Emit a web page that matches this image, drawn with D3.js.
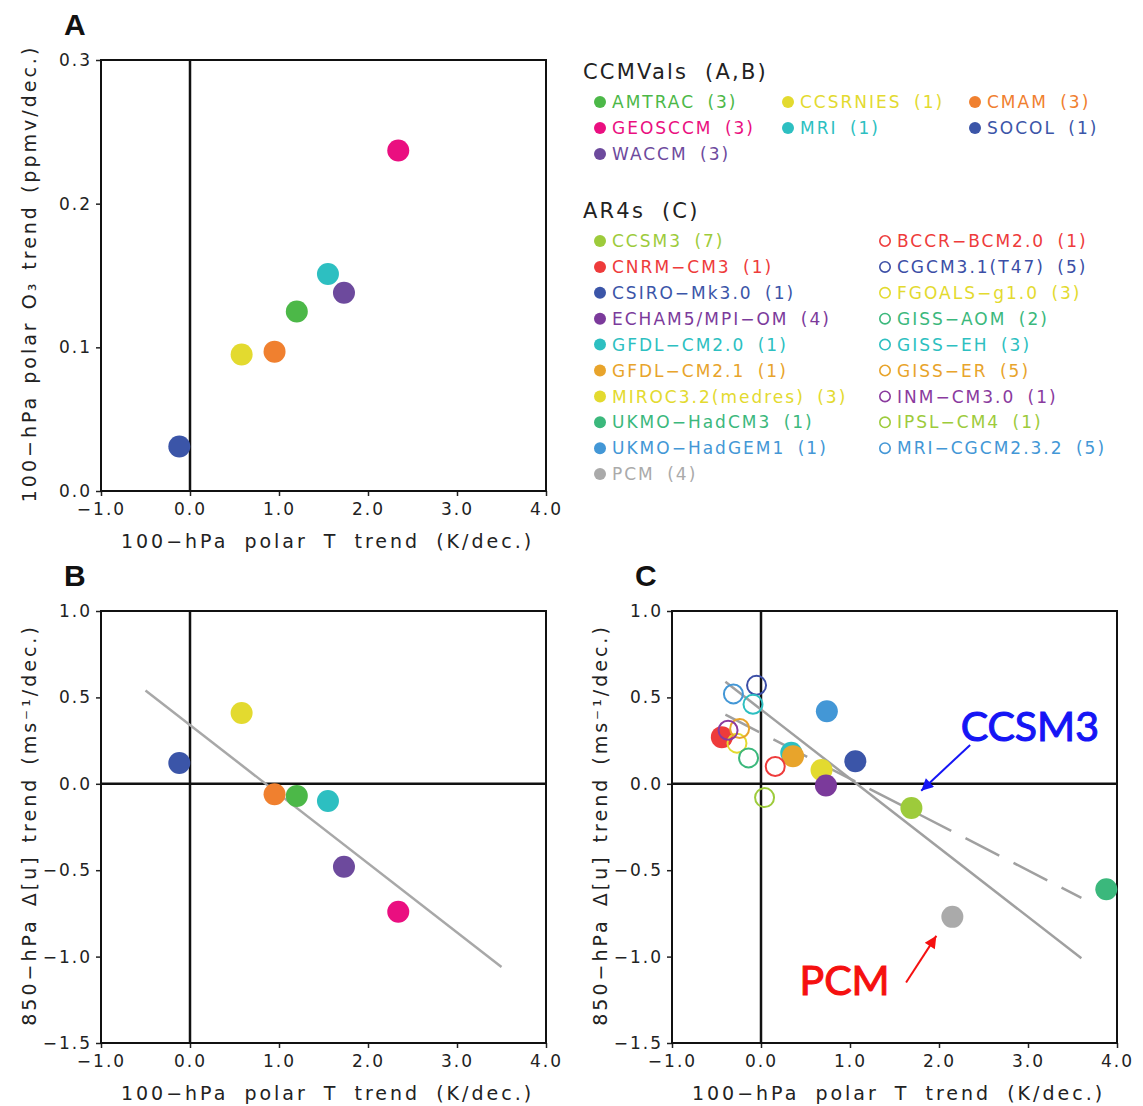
<!DOCTYPE html>
<html>
<head>
<meta charset="utf-8">
<script src="https://cdn.jsdelivr.net/npm/d3@7"></script>
<style>
  body { margin: 0; background: #fff; }
  text { font-family: "DejaVu Sans", sans-serif; }
</style>
</head>
<body>
<div id="chart"></div>
<script>
const W = 1143, H = 1106;

// axis ticks
const xTicks = [-1, 0, 1, 2, 3, 4];
const o3Ticks = [0, 0.1, 0.2, 0.3];
const uTicks = [-1.5, -1, -0.5, 0, 0.5, 1];

// CCMVals models (panels A, B)
const ccmNames = ["AMTRAC", "CCSRNIES", "CMAM", "GEOSCCM", "MRI", "SOCOL", "WACCM"];
const ccmCounts = [3, 1, 3, 3, 1, 1, 3];
const ccmColors = ["#4cb848", "#e3da2f", "#f0802f", "#ea0f80", "#2dbfc1", "#3b55a8", "#6d4a9d"];
const ccmT = [1.20, 0.58, 0.95, 2.34, 1.55, -0.12, 1.73];
const ccmO3 = [0.125, 0.095, 0.097, 0.237, 0.151, 0.031, 0.138];
const ccmU = [-0.07, 0.41, -0.06, -0.74, -0.10, 0.12, -0.48];
const ccmDrawOrder = [2, 0, 1, 3, 4, 5, 6];

// AR4 models, filled markers (panel C)
const arNames = ["CCSM3", "CNRM−CM3", "CSIRO−Mk3.0", "ECHAM5/MPI−OM", "GFDL−CM2.0",
  "GFDL−CM2.1", "MIROC3.2(medres)", "UKMO−HadCM3", "UKMO−HadGEM1", "PCM"];
const arCounts = [7, 1, 1, 4, 1, 1, 3, 1, 1, 4];
const arColors = ["#9dcb3b", "#ee3b3b", "#3b55a8", "#7b3a9b", "#2dbfc1",
  "#e8a42b", "#e3da2f", "#3bb87c", "#4397d6", "#aaaaaa"];
const arT = [1.69, -0.44, 1.06, 0.73, 0.34, 0.36, 0.68, 3.88, 0.74, 2.15];
const arU = [-0.14, 0.27, 0.13, -0.01, 0.18, 0.16, 0.08, -0.61, 0.42, -0.77];
const arDrawOrder = [0, 1, 2, 4, 5, 6, 3, 7, 8, 9];

// AR4 models, open markers (panel C)
const opNames = ["BCCR−BCM2.0", "CGCM3.1(T47)", "FGOALS−g1.0", "GISS−AOM", "GISS−EH",
  "GISS−ER", "INM−CM3.0", "IPSL−CM4", "MRI−CGCM2.3.2"];
const opCounts = [1, 5, 3, 2, 3, 5, 1, 1, 5];
const opColors = ["#ee3b3b", "#3b4ea6", "#e3da2f", "#3bb87c", "#2dbfc1",
  "#e8a42b", "#8a3a9e", "#9dcb3b", "#4397d6"];
const opT = [0.16, -0.05, -0.27, -0.14, -0.09, -0.24, -0.37, 0.04, -0.31];
const opU = [0.10, 0.57, 0.235, 0.15, 0.46, 0.32, 0.31, -0.08, 0.52];

// regression lines (end points in data units)
const fitBx = [-0.5, 3.5], fitBy = [0.54, -1.06];
const fitCx = [-0.40, 3.6], fitCy = [0.59, -1.01];
const dashCx = [-0.40, 3.6], dashCy = [0.40, -0.66];

const fmt = d3.format(".1f");
const svg = d3.select("#chart").append("svg")
  .attr("width", W).attr("height", H);

const defs = svg.append("defs");
[["arrBlue", "#1515f5"], ["arrRed", "#f51010"]].forEach(([id, c]) => {
  defs.append("marker").attr("id", id)
    .attr("markerUnits", "userSpaceOnUse")
    .attr("viewBox", "0 0 10 10").attr("refX", 10).attr("refY", 5)
    .attr("markerWidth", 15).attr("markerHeight", 12).attr("orient", "auto")
    .append("path").attr("d", "M0,0L10,5L0,10z").attr("fill", c);
});

function frame(x, y, yTicks, letter, yTitle, xZero, yZero) {
  const g = svg.append("g");
  const [xl, xr] = x.range();
  const [yb, yt] = y.range();

  const ax = g.append("g").attr("transform", `translate(0,${yb})`)
    .call(d3.axisBottom(x).tickValues(xTicks).tickSize(5).tickPadding(7).tickFormat(fmt));
  const ay = g.append("g").attr("transform", `translate(${xl},0)`)
    .call(d3.axisLeft(y).tickValues(yTicks).tickSize(5).tickPadding(4).tickFormat(fmt));
  [ax, ay].forEach(a => {
    a.select(".domain").remove();
    a.selectAll("line").attr("stroke", "#222").attr("stroke-width", 1.5);
    a.selectAll("text").attr("font-size", 17).attr("letter-spacing", 2)
      .attr("fill", "#222").style("font-family", '"DejaVu Sans", sans-serif');
  });

  if (xZero) g.append("line").attr("x1", x(0)).attr("x2", x(0))
    .attr("y1", yb).attr("y2", yt).attr("stroke", "#111").attr("stroke-width", 2.5);
  if (yZero) g.append("line").attr("x1", xl).attr("x2", xr)
    .attr("y1", y(0)).attr("y2", y(0)).attr("stroke", "#111").attr("stroke-width", 2.5);

  g.append("rect").attr("x", xl).attr("y", yt)
    .attr("width", xr - xl).attr("height", yb - yt)
    .attr("fill", "none").attr("stroke", "#111").attr("stroke-width", 2);

  g.append("text").attr("x", (xl + xr) / 2 + 4).attr("y", yb + 57)
    .attr("text-anchor", "middle").attr("font-size", 19).attr("fill", "#222")
    .attr("letter-spacing", 3).attr("word-spacing", 7)
    .text("100−hPa polar T trend (K/dec.)");

  g.append("text")
    .attr("transform", `translate(${xl - 65},${(yb + yt) / 2 - 2}) rotate(-90)`)
    .attr("text-anchor", "middle").attr("font-size", 19).attr("fill", "#222")
    .attr("letter-spacing", 3).attr("word-spacing", yTitle[1])
    .text(yTitle[0]);

  g.append("text").attr("x", xl - 37).attr("y", yt - 25)
    .attr("font-size", 30).attr("font-weight", "bold").attr("fill", "#111")
    .style("font-family", '"Liberation Sans", Arial, sans-serif')
    .text(letter);
  return g;
}

function dots(g, x, y, xs, ys, colors, order, open) {
  g.selectAll(null).data(order).enter().append("circle")
    .attr("cx", i => x(xs[i])).attr("cy", i => y(ys[i]))
    .attr("r", open ? 9.5 : 11)
    .attr("fill", i => open ? "none" : colors[i])
    .attr("stroke", i => open ? colors[i] : "none")
    .attr("stroke-width", open ? 2 : 0);
}

// Panel A
const xA = d3.scaleLinear().domain([-1, 4]).range([101, 546]);
const yA = d3.scaleLinear().domain([0, 0.3]).range([491, 60]);
const gA = frame(xA, yA, o3Ticks, "A", ["100−hPa polar O₃ trend (ppmv/dec.)", 2], true, false);
dots(gA, xA, yA, ccmT, ccmO3, ccmColors, ccmDrawOrder, false);

// Panel B
const xB = d3.scaleLinear().domain([-1, 4]).range([101, 546]);
const yB = d3.scaleLinear().domain([-1.5, 1]).range([1043, 611]);
const gB = frame(xB, yB, uTicks, "B", ["850−hPa Δ[u] trend (ms⁻¹/dec.)", 3], true, true);
gB.append("line").attr("x1", xB(fitBx[0])).attr("y1", yB(fitBy[0]))
  .attr("x2", xB(fitBx[1])).attr("y2", yB(fitBy[1]))
  .attr("stroke", "#a8a8a8").attr("stroke-width", 2.5);
dots(gB, xB, yB, ccmT, ccmU, ccmColors, ccmDrawOrder, false);

// Panel C
const xC = d3.scaleLinear().domain([-1, 4]).range([672, 1117]);
const yC = d3.scaleLinear().domain([-1.5, 1]).range([1043, 611]);
const gC = frame(xC, yC, uTicks, "C", ["850−hPa Δ[u] trend (ms⁻¹/dec.)", 3], true, true);
gC.append("line").attr("x1", xC(fitCx[0])).attr("y1", yC(fitCy[0]))
  .attr("x2", xC(fitCx[1])).attr("y2", yC(fitCy[1]))
  .attr("stroke", "#a0a0a0").attr("stroke-width", 2.5);
gC.append("line").attr("x1", xC(dashCx[0])).attr("y1", yC(dashCy[0]))
  .attr("x2", xC(dashCx[1])).attr("y2", yC(dashCy[1]))
  .attr("stroke", "#a0a0a0").attr("stroke-width", 2.5)
  .attr("stroke-dasharray", "38,16");
dots(gC, xC, yC, arT, arU, arColors, arDrawOrder, false);
dots(gC, xC, yC, opT, opU, opColors, d3.range(opNames.length), true);

// annotations
gC.append("text").attr("x", xC(3.02)).attr("y", yC(0.245))
  .attr("text-anchor", "middle").attr("font-size", 41)
  .attr("fill", "#1515f5").attr("stroke", "#1515f5").attr("stroke-width", 1.1)
  .style("font-family", "Lato, sans-serif").text("CCSM3");
gC.append("line").attr("x1", xC(2.35)).attr("y1", yC(0.225))
  .attr("x2", xC(1.80)).attr("y2", yC(-0.04))
  .attr("stroke", "#1515f5").attr("stroke-width", 2).attr("marker-end", "url(#arrBlue)");
gC.append("text").attr("x", xC(0.94)).attr("y", yC(-1.22))
  .attr("text-anchor", "middle").attr("font-size", 41)
  .attr("fill", "#f51010").attr("stroke", "#f51010").attr("stroke-width", 1.1)
  .style("font-family", "Lato, sans-serif").text("PCM");
gC.append("line").attr("x1", xC(1.63)).attr("y1", yC(-1.15))
  .attr("x2", xC(1.97)).attr("y2", yC(-0.88))
  .attr("stroke", "#f51010").attr("stroke-width", 2).attr("marker-end", "url(#arrRed)");

// Legends
const lg = svg.append("g");
lg.append("text").attr("x", 583).attr("y", 79).attr("font-size", 21).attr("fill", "#222")
  .attr("letter-spacing", 2.2).attr("word-spacing", 8).text("CCMVals (A,B)");
const ccmColX = [600, 788, 975];
ccmNames.forEach((n, i) => {
  const cx = ccmColX[i % 3], cy = 102 + 26 * Math.floor(i / 3);
  lg.append("circle").attr("cx", cx).attr("cy", cy).attr("r", 6).attr("fill", ccmColors[i]);
  lg.append("text").attr("x", cx + 12).attr("y", cy).attr("dy", "0.36em")
    .attr("font-size", 17).attr("letter-spacing", 2).attr("word-spacing", 5)
    .attr("fill", ccmColors[i])
    .text(`${n} (${ccmCounts[i]})`);
});

lg.append("text").attr("x", 583).attr("y", 218).attr("font-size", 21).attr("fill", "#222")
  .attr("letter-spacing", 2.2).attr("word-spacing", 8).text("AR4s (C)");
arNames.forEach((n, i) => {
  const cy = 241 + 25.9 * i;
  lg.append("circle").attr("cx", 600).attr("cy", cy).attr("r", 6).attr("fill", arColors[i]);
  lg.append("text").attr("x", 612).attr("y", cy).attr("dy", "0.36em")
    .attr("font-size", 17).attr("letter-spacing", 2).attr("word-spacing", 5)
    .attr("fill", arColors[i])
    .text(`${n} (${arCounts[i]})`);
});
opNames.forEach((n, i) => {
  const cy = 241 + 25.9 * i;
  lg.append("circle").attr("cx", 885).attr("cy", cy).attr("r", 5.2)
    .attr("fill", "none").attr("stroke", opColors[i]).attr("stroke-width", 1.6);
  lg.append("text").attr("x", 897).attr("y", cy).attr("dy", "0.36em")
    .attr("font-size", 17).attr("letter-spacing", 2).attr("word-spacing", 5)
    .attr("fill", opColors[i])
    .text(`${n} (${opCounts[i]})`);
});
</script>
</body>
</html>
